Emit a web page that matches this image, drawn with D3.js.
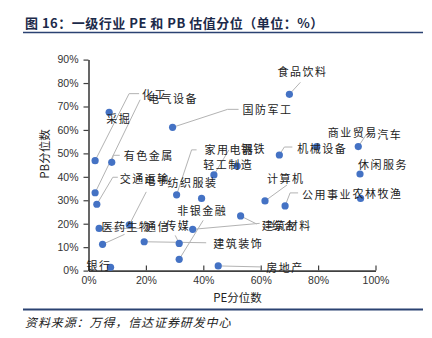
<!DOCTYPE html>
<html><head><meta charset="utf-8">
<script src="https://cdn.jsdelivr.net/npm/d3@7"></script>
<style>
html,body{margin:0;padding:0;background:#fff;}
svg{display:block;}
</style></head><body>
<svg id="chart" width="432" height="338"></svg>
<script>
// ---- data ----
const industries = ["食品饮料","国防军工","采掘","化工","有色金属","电气设备","交通运输","通信","医药生物","电子","建筑装饰","传媒","非银金融","建筑材料","综合","家用电器","纺织服装","钢铁","轻工制造","机械设备","商业贸易","汽车","休闲服务","农林牧渔","计算机","公用事业","房地产","银行"];
const pePercentile = [70.0,29.3,7.2,2.3,8.1,2.3,2.9,3.7,4.9,14.2,19.4,31.6,31.6,36.3,53.0,30.7,39.4,43.7,51.8,66.5,79.5,94.0,94.6,94.8,61.5,68.5,45.2,7.7];
const pbPercentile = [75.2,61.1,67.5,46.9,46.2,33.2,28.3,18.0,11.2,19.5,12.3,11.6,4.8,17.6,23.3,32.3,30.8,40.8,44.6,49.3,52.9,52.9,41.2,30.8,29.7,27.6,2.0,1.4];
const xTickValues = [0,20,40,60,80,100];
const yTickValues = [0,10,20,30,40,50,60,70,80,90];
const titleText = "图 16：一级行业 PE 和 PB 估值分位（单位：%）";
const xAxisTitle = "PE分位数";
const yAxisTitle = "PB分位数";
const sourceText = "资料来源：万得，信达证券研发中心";

// ---- label layout (pixel offsets from each point) ----
const labelLayout = [
 {dx:-12,dy:-23, leader:[[11,-12]]},          // 食品饮料
 {dx:70,dy:-18, leader:[[55,-18],[66,-18]]},  // 国防军工
 {dx:-3,dy:6, leader:null},                   // 采掘
 {dx:47,dy:-67, leader:[[34,-67],[44,-67]]},  // 化工
 {dx:12,dy:-7, leader:[[1.5,-7],[8,-7]]},     // 有色金属
 {dx:53,dy:-95, leader:[[45,-93]]},           // 电气设备
 {dx:23,dy:-26, leader:[[16,-27],[21,-27]]},  // 交通运输
 {dx:46,dy:-2, leader:[[41,0]]},              // 通信
 {dx:-1,dy:-18, leader:[[22,-10]]},           // 医药生物
 {dx:15,dy:-45, leader:[[17,-33]]},           // 电子
 {dx:69,dy:1, leader:[[62,1]]},               // 建筑装饰
 {dx:-14,dy:-18, leader:[[-4,-8]]},           // 传媒
 {dx:-2,dy:-49, leader:[[24,-39]]},           // 非银金融
 {dx:69,dy:-4, leader:[[67,-6]]},             // 建筑材料
 {dx:31,dy:9, leader:[[16,8]]},               // 综合
 {dx:28,dy:-46, leader:[[15,-45],[20,-45]]},  // 家用电器
 {dx:-34,dy:-16, leader:null},                // 纺织服装
 {dx:27,dy:-27, leader:[[15,-25]]},           // 钢铁
 {dx:-34,dy:-2, leader:null},                 // 轻工制造
 {dx:18,dy:-7, leader:[[5,-8],[13,-8]]},      // 机械设备
 {dx:11,dy:-15, leader:null},                 // 商业贸易
 {dx:19,dy:-13, leader:[[8,-12],[13,-12]]},   // 汽车
 {dx:-2,dy:-10, leader:null},                 // 休闲服务
 {dx:-8,dy:-5, leader:null},                  // 农林牧渔
 {dx:2,dy:-23, leader:[[22,-16]]},            // 计算机
 {dx:17,dy:-12, leader:[[5,-13],[13,-13]]},   // 公用事业
 {dx:48,dy:1, leader:[[42,1]]},               // 房地产
 {dx:-24,dy:-2, leader:null}                  // 银行
];

const svg = d3.select("#chart");
const cjk = "'Noto Sans CJK SC','Noto Sans',sans-serif";
const latin = "'Liberation Sans',Arial,sans-serif";

// title
svg.append("text").attr("x",25).attr("y",22).attr("dominant-baseline","central")
  .attr("font-family",cjk).attr("font-weight","bold").attr("font-size",13)
  .attr("letter-spacing",0.5).attr("fill","#1c2a4a").text(titleText);
svg.append("line").attr("x1",23).attr("x2",423).attr("y1",32.5).attr("y2",32.5)
  .attr("stroke","#2b4272").attr("stroke-width",1.5);

// scales
const x = d3.scaleLinear().domain([0,100]).range([88.5,375.5]);
const y = d3.scaleLinear().domain([0,90]).range([270.6,59.6]);

// axes
const xAxis = svg.append("g").attr("transform",`translate(0,${y(0)})`)
  .call(d3.axisBottom(x).tickValues(xTickValues).tickFormat(d=>d+"%").tickSizeInner(-5).tickSizeOuter(0).tickPadding(8));
const yAxis = svg.append("g").attr("transform",`translate(${x(0)},0)`)
  .call(d3.axisLeft(y).tickValues(yTickValues).tickFormat(d=>d+"%").tickSizeInner(5).tickSizeOuter(0).tickPadding(5));
[xAxis,yAxis].forEach(g=>{
  g.select(".domain").attr("stroke","#404040").attr("stroke-width",1.6);
  g.selectAll(".tick line").attr("stroke","#404040").attr("stroke-width",1.2);
  g.selectAll(".tick text").attr("font-family",latin).attr("font-size",10.5).attr("fill","#333");
});
xAxis.selectAll(".tick text").attr("dy","0.55em");

// axis titles
svg.append("text").attr("x",237.5).attr("y",297).attr("text-anchor","middle").attr("dominant-baseline","central")
  .attr("font-family",cjk).attr("font-size",11.5).attr("fill","#222").text(xAxisTitle);
svg.append("text").attr("transform","translate(44,154) rotate(-90)").attr("text-anchor","middle").attr("dominant-baseline","central")
  .attr("font-family",cjk).attr("font-size",11.5).attr("fill","#222").text(yAxisTitle);

// data
const pts = industries.map((name,i)=>({name, pe:pePercentile[i], pb:pbPercentile[i], lay:labelLayout[i]}));

// leaders
svg.append("g").selectAll("path").data(pts.filter(d=>d.lay.leader)).join("path")
  .attr("d",d=>{
    const px=x(d.pe), py=y(d.pb);
    return "M"+px+","+py+d.lay.leader.map(p=>"L"+(px+p[0])+","+(py+p[1])).join("");
  })
  .attr("fill","none").attr("stroke","#b3b3b3").attr("stroke-width",1);

// points
svg.append("g").selectAll("circle").data(pts).join("circle")
  .attr("cx",d=>x(d.pe)).attr("cy",d=>y(d.pb)).attr("r",3.6).attr("fill","#4472c4");

// labels
svg.append("g").selectAll("text").data(pts).join("text")
  .attr("x",d=>x(d.pe)+d.lay.dx).attr("y",d=>y(d.pb)+d.lay.dy)
  .attr("dominant-baseline","central")
  .attr("font-family",cjk).attr("font-size",11).attr("letter-spacing",1.5).attr("fill","#222")
  .text(d=>d.name);

// footer
svg.append("line").attr("x1",23).attr("x2",423).attr("y1",309.5).attr("y2",309.5)
  .attr("stroke","#2b4272").attr("stroke-width",1.8);
svg.append("text").attr("x",25).attr("y",321).attr("dominant-baseline","central")
  .attr("font-family",cjk).attr("font-style","italic").attr("font-size",12).attr("letter-spacing",0.9)
  .attr("fill","#222").text(sourceText);
</script>
</body></html>
